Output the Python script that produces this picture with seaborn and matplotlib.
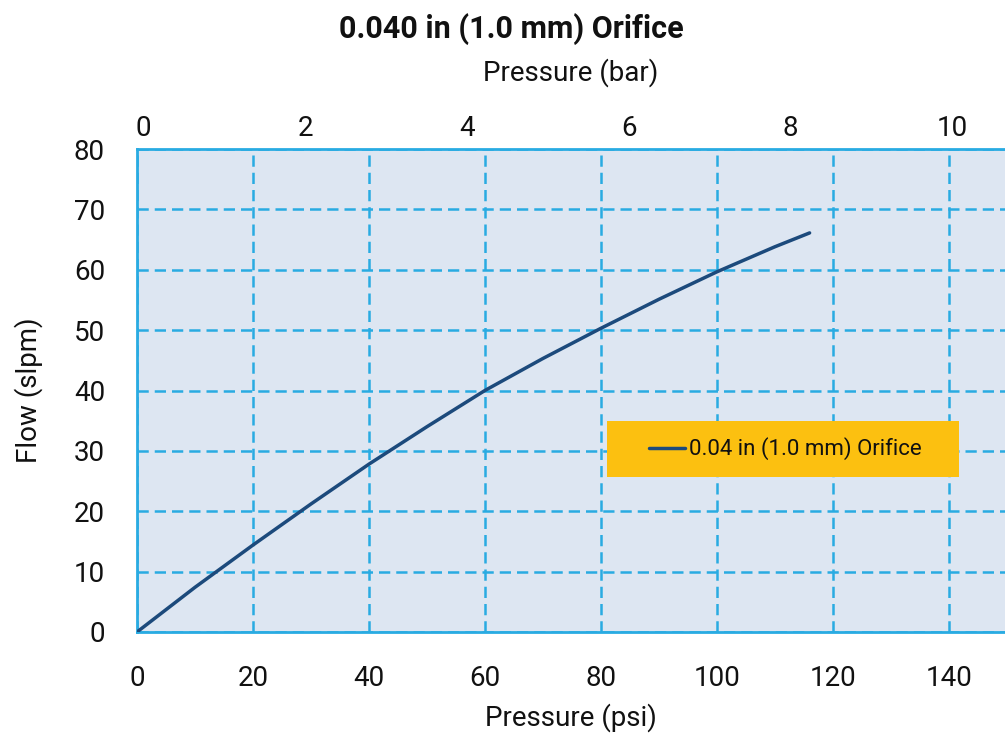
import matplotlib
matplotlib.use("Agg")
import matplotlib.pyplot as plt
from matplotlib.patches import Rectangle
import seaborn as sns
import pandas as pd

# Data
pressure_psi = [0, 10, 20, 30, 40, 50, 60, 70, 80, 90, 100, 110, 116]
flow_slpm = [0, 7.4, 14.4, 21.2, 27.8, 34.0, 40.0, 45.3, 50.3, 55.1, 59.65, 63.8, 66.1]
series_name = "0.04 in (1.0 mm) Orifice"
x_ticks = [0, 20, 40, 60, 80, 100, 120, 140]
y_ticks = [0, 10, 20, 30, 40, 50, 60, 70, 80]
bar_ticks = [0, 2, 4, 6, 8, 10]

df = pd.DataFrame({"Pressure (psi)": pressure_psi, "Flow (slpm)": flow_slpm,
                   "series": series_name})

sns.set_theme(style="white")
plt.rcParams['font.family'] = ['Roboto', 'DejaVu Sans']

grid_c = "#29abe2"
line_c = "#1c4a7c"
text_c = "#111111"

fig = plt.figure(figsize=(10.05, 7.38), dpi=100)
ax = fig.add_axes([137/1005, 106/738, 1 - 137/1005, (632-149)/738])
ax.set_facecolor("#dde6f2")

sns.lineplot(data=df, x="Pressure (psi)", y="Flow (slpm)", hue="series",
             palette=[line_c], linewidth=2.5, ax=ax, zorder=5)

ax.set_xlim(0, 149.7)
ax.set_ylim(0, 80)
ax.set_xticks(x_ticks)
ax.set_yticks(y_ticks)
ax.tick_params(axis="x", length=0, labelsize=20, colors=text_c, pad=24)
ax.tick_params(axis="y", length=0, labelsize=20, colors=text_c, pad=23)
ax.set_xlabel("Pressure (psi)", fontsize=20, labelpad=8, color=text_c)
ax.set_ylabel("Flow (slpm)", fontsize=20, labelpad=22, color=text_c)

ax.grid(True, color=grid_c, linestyle=(0, (4.5, 2.4)), linewidth=1.8, zorder=1)
ax.set_axisbelow(True)
for s in ["left", "bottom", "top"]:
    ax.spines[s].set_color(grid_c)
    ax.spines[s].set_linewidth(2)
ax.spines["right"].set_visible(False)

# yellow legend background
ax.add_patch(Rectangle((0.5415, 0.321), 0.947 - 0.5415, 0.437 - 0.321,
                       transform=ax.transAxes, facecolor="#fcc010",
                       edgecolor="none", zorder=8))
leg = ax.legend(loc="center", bbox_to_anchor=(0.7475, 0.379), frameon=False,
                fontsize=16, handlelength=1.6, handletextpad=0.2,
                borderpad=0, borderaxespad=0)
leg.set_zorder(10)
for t in leg.get_texts():
    t.set_color(text_c)

ax2 = ax.twiny()
ax2.set_xlim(-0.08, 10.65)
ax2.set_xticks(bar_ticks)
ax2.tick_params(axis="x", length=0, labelsize=20, colors=text_c, pad=5)
ax2.set_xlabel("Pressure (bar)", fontsize=20, labelpad=25, color=text_c)
for s in ax2.spines.values():
    s.set_visible(False)

fig.text(511/1005, 1 - 29/738, "0.040 in (1.0 mm) Orifice", ha="center",
         va="center", fontsize=22, fontweight="bold", color=text_c)

fig.savefig("out.png", dpi=100)
